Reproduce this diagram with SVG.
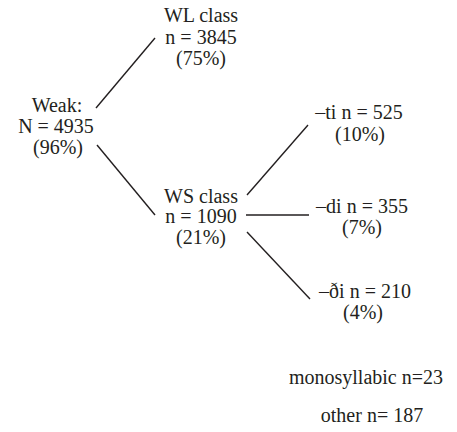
<svg xmlns="http://www.w3.org/2000/svg" width="457" height="432" viewBox="0 0 457 432">
<style>
text{font-family:"Liberation Serif","Times New Roman",serif;font-size:20px;fill:#231f20;text-anchor:middle}
.c{stroke:#231f20;stroke-width:1.4;fill:none}
</style>
<rect width="457" height="432" fill="#fff"/>
<g id="connectors">
<line class="c" x1="96" y1="108" x2="155" y2="38"/>
<line class="c" x1="97" y1="145" x2="155" y2="215"/>
<line class="c" x1="247" y1="195" x2="308" y2="125"/>
<line class="c" x1="246" y1="215" x2="309" y2="215"/>
<line class="c" x1="247" y1="232" x2="310" y2="299"/>
</g>
<g id="weak"><text x="57" y="112">Weak:</text><text x="56" y="133">N = 4935</text><text x="58" y="154">(96%)</text></g>
<g id="wl"><text x="201" y="22">WL class</text><text x="201" y="44">n = 3845</text><text x="201" y="65">(75%)</text></g>
<g id="ws"><text x="201" y="203">WS class</text><text x="201" y="223">n = 1090</text><text x="201" y="244">(21%)</text></g>
<g id="ti"><text x="359" y="119">–ti n = 525</text><text x="360" y="141">(10%)</text></g>
<g id="di"><text x="362" y="213">–di n = 355</text><text x="362" y="234">(7%)</text></g>
<g id="dhi"><text x="365" y="298">–ði n = 210</text><text x="363" y="319">(4%)</text></g>
<g id="mono"><text x="366" y="384">monosyllabic n=23</text></g>
<g id="other"><text x="372" y="422">other n= 187</text></g>
</svg>
